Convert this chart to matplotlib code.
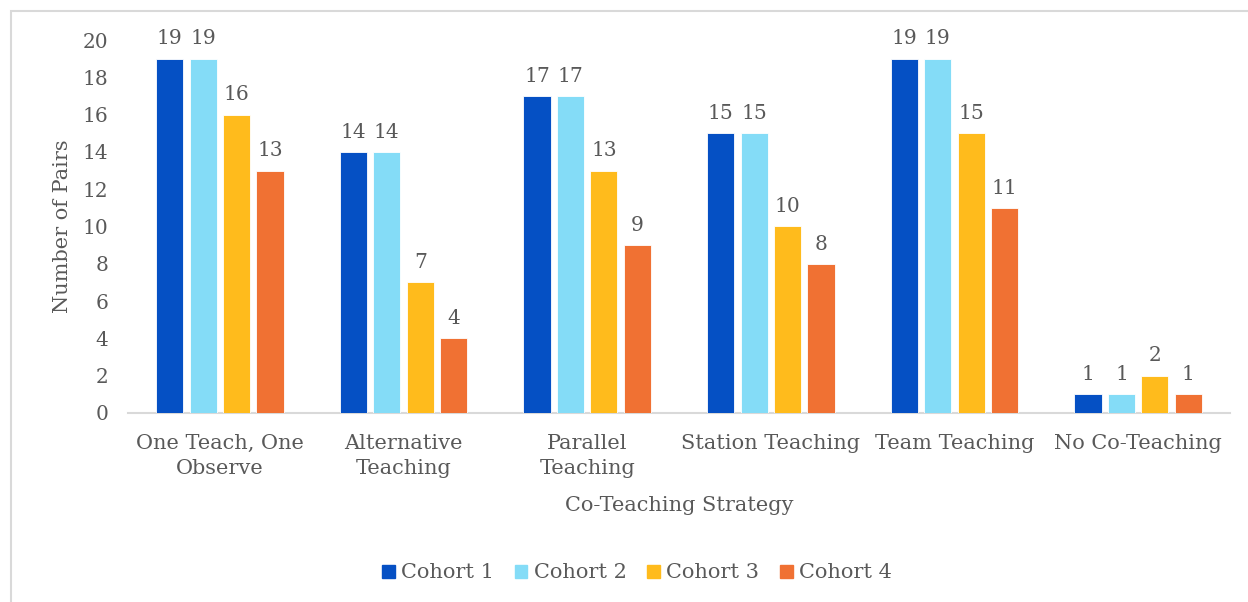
import matplotlib
matplotlib.use('Agg')
import matplotlib.pyplot as plt
import matplotlib.patches as mpatches
import numpy as np

# ── Data ──────────────────────────────────────────────────────────────────────
strategies = ['One Teach, One\nObserve', 'Alternative\nTeaching', 'Parallel\nTeaching',
              'Station Teaching', 'Team Teaching', 'No Co-Teaching']
cohort_names = ['Cohort 1', 'Cohort 2', 'Cohort 3', 'Cohort 4']
cohort1 = [19, 14, 17, 15, 19, 1]
cohort2 = [19, 14, 17, 15, 19, 1]
cohort3 = [16, 7, 13, 10, 15, 2]
cohort4 = [13, 4, 9, 8, 11, 1]
y_ticks = [0, 2, 4, 6, 8, 10, 12, 14, 16, 18, 20]

colors = ['#0550C4', '#84DCF7', '#FFBB1C', '#F07133']
TXT = '#595959'
FONT = 'DejaVu Serif'

plt.rcParams['font.family'] = FONT

W, H = 1248, 602
fig = plt.figure(figsize=(W / 100, H / 100), dpi=100)
fig.patch.set_facecolor('white')

# light grey border round the chart area (cut at right/bottom)
fig.add_artist(mpatches.Rectangle((11 / W, -0.05), 1.1, 1 - 11 / H + 0.05,
                                  transform=fig.transFigure, fill=False,
                                  edgecolor='#D9D9D9', linewidth=1.5))

# axes: x 128..1230 px, y 40..413 px
ax = fig.add_axes([128 / W, 1 - 413 / H, (1230 - 128) / W, (413 - 40) / H])

series = [cohort1, cohort2, cohort3, cohort4]
x = np.arange(len(strategies))
step = 0.182
width = 0.148
for i, (vals, c, name) in enumerate(zip(series, colors, cohort_names)):
    pos = x + (i - 1.5) * step
    ax.bar(pos, vals, width=width, color=c, edgecolor='white',
           linewidth=0.6, label=name, zorder=3)
    for xp, v in zip(pos, vals):
        ax.text(xp, v + 0.55, str(v), ha='center', va='bottom',
                fontsize=14.5, color=TXT)

ax.set_xlim(-0.5, len(strategies) - 0.5)
ax.set_ylim(0, 20)
ax.set_yticks(y_ticks)
ax.set_yticklabels([str(t) for t in y_ticks], fontsize=14.5, color=TXT)
ax.set_xticks(x)
ax.set_xticklabels(strategies, fontsize=15, color=TXT, linespacing=1.4)
ax.tick_params(axis='both', length=0)
ax.tick_params(axis='y', pad=14)
ax.tick_params(axis='x', pad=15)

for s in ['top', 'right', 'left']:
    ax.spines[s].set_visible(False)
ax.spines['bottom'].set_color('#D9D9D9')
ax.spines['bottom'].set_linewidth(1.5)

ax.set_ylabel('Number of Pairs', fontsize=15, color=TXT, labelpad=8)
ax.set_xlabel('Co-Teaching Strategy', fontsize=15, color=TXT, labelpad=13)

handles = [mpatches.Patch(color=c, label=n) for c, n in zip(colors, cohort_names)]
fig.legend(handles=handles, loc='center', bbox_to_anchor=(637 / W, 1 - 573 / H),
           ncol=4, frameon=False, fontsize=15, handlelength=0.6, handleheight=0.6,
           handletextpad=0.3, columnspacing=1.0, labelcolor=TXT)

fig.savefig('out.png', dpi=100, facecolor='white')
plt.close(fig)
